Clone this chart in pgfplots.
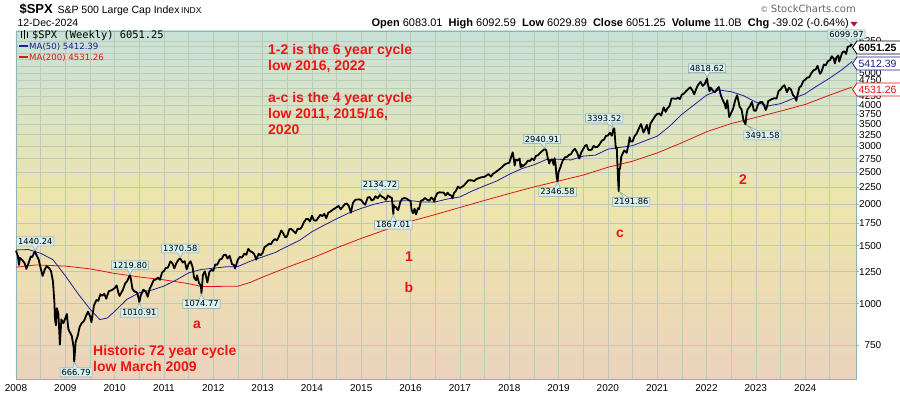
\documentclass[border=0pt]{standalone}
\usepackage{pgfplots}
\pgfplotsset{compat=1.18}
\usepackage{fontspec}
\setmainfont{Liberation Sans}
\newfontfamily\dv{DejaVu Sans}
\newfontfamily\dvm{DejaVu Sans Mono}
\usetikzlibrary{shapes.callouts,shapes.symbols}
\definecolor{bgtop}{RGB}{200,226,216}
\definecolor{bgmid}{RGB}{238,229,172}
\definecolor{bgbot}{RGB}{235,211,188}
\definecolor{gridc}{RGB}{188,202,186}
\definecolor{framec}{RGB}{140,180,185}
\definecolor{ma50c}{RGB}{30,30,150}
\definecolor{ma200c}{RGB}{225,20,20}
\definecolor{annred}{RGB}{240,20,20}
\definecolor{lblfill}{RGB}{215,240,240}
\definecolor{lbldraw}{RGB}{130,165,170}
\newcommand{\valbox}[4]{%
  \draw[#2, line width=0.8pt, fill=white] (852.5,#1) -- (857,#1+6.5) -- (902,#1+6.5) -- (902,#1-6.5) -- (857,#1-6.5) -- cycle;
  \node[text=#2, font=#4, inner sep=0pt, anchor=west] at (858.3,#1) {#3};}
\pgfplotstableread{
x y
2008.00 1447
2008.04 1390
2008.06 1310
2008.08 1378
2008.13 1353
2008.17 1330
2008.20 1293
2008.21 1275
2008.25 1322
2008.30 1390
2008.33 1385
2008.38 1440
2008.42 1400
2008.46 1360
2008.50 1280
2008.54 1214
2008.58 1267
2008.62 1298
2008.67 1283
2008.71 1255
2008.75 1166
2008.78 1000
2008.79 899
2008.81 860
2008.83 969
2008.86 930
2008.89 752
2008.92 896
2008.96 873
2009.00 903
2009.03 931
2009.06 840
2009.08 826
2009.13 800
2009.17 735
2009.18 667
2009.21 768
2009.25 798
2009.29 850
2009.33 873
2009.38 887
2009.42 919
2009.46 946
2009.50 919
2009.53 879
2009.58 987
2009.63 1026
2009.67 1021
2009.71 1068
2009.75 1057
2009.79 1071
2009.83 1036
2009.88 1091
2009.92 1096
2009.96 1103
2010.00 1115
2010.04 1136
2010.08 1074
2010.10 1056
2010.17 1104
2010.21 1150
2010.25 1169
2010.31 1219
2010.33 1187
2010.36 1110
2010.40 1088
2010.42 1089
2010.46 1077
2010.49 1031
2010.50 1011
2010.53 1060
2010.58 1102
2010.63 1090
2010.67 1049
2010.71 1110
2010.75 1141
2010.79 1178
2010.83 1183
2010.88 1200
2010.92 1181
2010.96 1243
2011.00 1258
2011.04 1283
2011.08 1286
2011.13 1343
2011.17 1327
2011.21 1279
2011.25 1326
2011.30 1363
2011.33 1370
2011.38 1333
2011.42 1345
2011.46 1271
2011.50 1321
2011.54 1344
2011.58 1292
2011.61 1199
2011.65 1178
2011.67 1219
2011.71 1155
2011.75 1131
2011.76 1075
2011.79 1224
2011.83 1253
2011.88 1159
2011.92 1247
2011.96 1265
2012.00 1258
2012.04 1315
2012.08 1312
2012.13 1361
2012.17 1366
2012.21 1404
2012.25 1408
2012.29 1370
2012.33 1398
2012.38 1317
2012.42 1310
2012.44 1278
2012.50 1362
2012.54 1386
2012.58 1379
2012.63 1418
2012.67 1407
2012.71 1466
2012.75 1441
2012.79 1433
2012.83 1412
2012.87 1360
2012.92 1416
2012.96 1402
2013.00 1426
2013.04 1485
2013.08 1498
2013.13 1519
2013.17 1515
2013.21 1551
2013.25 1569
2013.29 1555
2013.33 1598
2013.38 1667
2013.42 1631
2013.46 1589
2013.48 1592
2013.50 1606
2013.54 1680
2013.58 1686
2013.63 1656
2013.67 1633
2013.71 1688
2013.75 1682
2013.79 1703
2013.83 1757
2013.88 1804
2013.92 1806
2013.96 1775
2014.00 1848
2014.04 1790
2014.08 1783
2014.10 1797
2014.17 1859
2014.21 1841
2014.25 1872
2014.29 1815
2014.33 1884
2014.42 1924
2014.50 1960
2014.54 1978
2014.58 1931
2014.67 2003
2014.71 2011
2014.75 1972
2014.79 1886
2014.83 2018
2014.88 2064
2014.92 2068
2014.96 2070
2015.00 2059
2015.04 2019
2015.08 1995
2015.13 2096
2015.17 2105
2015.21 2053
2015.25 2068
2015.29 2117
2015.33 2086
2015.38 2135
2015.42 2107
2015.46 2094
2015.50 2063
2015.54 2127
2015.58 2104
2015.62 2091
2015.65 1867
2015.66 1989
2015.67 1972
2015.71 1958
2015.73 1931
2015.75 1920
2015.79 2033
2015.83 2079
2015.88 2089
2015.92 2080
2015.96 2060
2016.00 2044
2016.02 1922
2016.05 1880
2016.08 1940
2016.11 1864
2016.15 1948
2016.17 1932
2016.21 2050
2016.25 2060
2016.29 2091
2016.33 2065
2016.38 2052
2016.42 2097
2016.46 2071
2016.48 2037
2016.50 2099
2016.54 2161
2016.58 2174
2016.67 2171
2016.71 2127
2016.75 2168
2016.79 2133
2016.83 2126
2016.85 2085
2016.88 2164
2016.92 2199
2016.96 2263
2017.00 2239
2017.08 2279
2017.17 2364
2017.25 2363
2017.29 2349
2017.33 2384
2017.42 2412
2017.50 2423
2017.58 2470
2017.63 2425
2017.67 2472
2017.75 2519
2017.83 2575
2017.92 2648
2018.00 2674
2018.04 2786
2018.07 2873
2018.09 2762
2018.11 2620
2018.13 2732
2018.17 2714
2018.21 2752
2018.23 2588
2018.25 2641
2018.27 2604
2018.33 2648
2018.38 2713
2018.42 2705
2018.46 2754
2018.50 2718
2018.54 2801
2018.58 2816
2018.67 2902
2018.72 2941
2018.75 2914
2018.78 2767
2018.81 2658
2018.83 2712
2018.87 2736
2018.90 2632
2018.92 2760
2018.94 2633
2018.96 2417
2018.98 2347
2019.00 2507
2019.04 2596
2019.08 2704
2019.13 2775
2019.17 2784
2019.21 2822
2019.25 2834
2019.29 2905
2019.33 2946
2019.37 2881
2019.42 2752
2019.46 2873
2019.50 2942
2019.54 3013
2019.57 3025
2019.60 2932
2019.62 2918
2019.67 2926
2019.71 3007
2019.75 2977
2019.79 2986
2019.83 3038
2019.88 3120
2019.92 3141
2019.96 3221
2020.00 3231
2020.04 3295
2020.08 3226
2020.11 3380
2020.13 3393
2020.16 2954
2020.18 2972
2020.19 2711
2020.21 2305
2020.22 2192
2020.23 2541
2020.25 2585
2020.27 2789
2020.33 2912
2020.38 2864
2020.42 3044
2020.44 3193
2020.46 3098
2020.50 3100
2020.54 3216
2020.58 3271
2020.63 3397
2020.67 3500
2020.69 3427
2020.72 3298
2020.75 3363
2020.79 3483
2020.83 3270
2020.86 3509
2020.92 3622
2020.96 3703
2021.00 3756
2021.04 3768
2021.08 3714
2021.13 3934
2021.17 3811
2021.21 3913
2021.25 3973
2021.29 4185
2021.33 4181
2021.38 4173
2021.42 4204
2021.46 4166
2021.50 4298
2021.54 4327
2021.58 4395
2021.63 4468
2021.67 4523
2021.71 4433
2021.75 4308
2021.79 4471
2021.83 4605
2021.88 4698
2021.92 4567
2021.96 4621
2022.00 4766
2022.01 4818
2022.02 4677
2022.06 4398
2022.08 4516
2022.13 4418
2022.15 4385
2022.17 4374
2022.21 4463
2022.25 4530
2022.29 4272
2022.33 4132
2022.37 4023
2022.39 3901
2022.42 4132
2022.46 3675
2022.50 3785
2022.54 3900
2022.58 4130
2022.62 4280
2022.67 3955
2022.71 3873
2022.75 3586
2022.79 3492
2022.81 3752
2022.83 3872
2022.88 3966
2022.92 4080
2022.96 3845
2023.00 3840
2023.04 3999
2023.08 4077
2023.13 4079
2023.17 3970
2023.20 3861
2023.23 3971
2023.25 4109
2023.29 4138
2023.33 4169
2023.38 4191
2023.42 4180
2023.46 4409
2023.50 4450
2023.54 4536
2023.58 4589
2023.63 4370
2023.67 4508
2023.71 4457
2023.75 4288
2023.79 4224
2023.82 4117
2023.83 4194
2023.88 4514
2023.92 4568
2023.96 4719
2024.00 4770
2024.04 4839
2024.08 4846
2024.13 5005
2024.17 5096
2024.21 5117
2024.25 5254
2024.30 4967
2024.33 5036
2024.38 5303
2024.42 5278
2024.46 5431
2024.50 5460
2024.54 5615
2024.58 5522
2024.60 5344
2024.63 5554
2024.67 5648
2024.69 5408
2024.75 5762
2024.79 5815
2024.83 5705
2024.86 5996
2024.92 6032
2024.93 6100
2024.95 6051
}\price
\pgfplotstableread{
x y
2008.00 1455
2008.25 1459
2008.50 1421
2008.75 1359
2009.00 1215
2009.25 1076
2009.50 963
2009.70 895
2009.85 905
2010.00 948
2010.25 1031
2010.50 1080
2010.75 1099
2011.00 1131
2011.25 1180
2011.50 1240
2011.75 1269
2012.00 1281
2012.25 1293
2012.50 1296
2012.75 1345
2013.00 1386
2013.25 1428
2013.50 1492
2013.75 1556
2014.00 1652
2014.25 1730
2014.50 1808
2014.75 1883
2015.00 1944
2015.25 1999
2015.50 2040
2015.75 2047
2016.00 2052
2016.25 2032
2016.50 2033
2016.75 2076
2017.00 2106
2017.25 2195
2017.50 2275
2017.75 2354
2018.00 2465
2018.25 2563
2018.50 2634
2018.75 2732
2019.00 2738
2019.25 2725
2019.50 2798
2019.75 2819
2020.00 2938
2020.25 2975
2020.50 3010
2020.75 3114
2021.00 3217
2021.25 3445
2021.50 3747
2021.75 4005
2022.00 4279
2022.25 4439
2022.50 4386
2022.75 4265
2023.00 4078
2023.25 3972
2023.50 4035
2023.75 4178
2024.00 4323
2024.25 4576
2024.50 4824
2024.75 5120
2024.95 5412
}\maA
\pgfplotstableread{
x y
2008.00 1290
2008.40 1310
2009.00 1300
2009.50 1275
2010.00 1235
2010.50 1205
2011.00 1181
2011.50 1150
2011.75 1128
2012.00 1128
2012.50 1130
2012.75 1160
2013.00 1204
2013.50 1289
2014.00 1374
2014.50 1476
2015.00 1577
2015.50 1676
2016.00 1777
2016.50 1862
2017.00 1957
2017.50 2055
2018.00 2156
2018.50 2257
2019.00 2353
2019.50 2452
2020.00 2589
2020.50 2701
2021.00 2862
2021.50 3072
2022.00 3316
2022.50 3512
2023.00 3666
2023.50 3831
2024.00 4012
2024.50 4285
2024.95 4531
}\maB
\begin{document}
\begin{tikzpicture}[x=1pt,y=1pt,
  lbl/.style={rectangle callout, fill=lblfill, draw=lbldraw, line width=0.5pt,
    font=\dv\fontsize{8.3}{9}\selectfont, inner xsep=1.5pt, inner ysep=1.3pt,
    callout pointer width=5pt, anchor=pointer},
  up/.style={callout relative pointer={(#1,-5pt)}},
  dn/.style={callout relative pointer={(#1,5.5pt)}},
  ann/.style={anchor=base west, text=annred, font=\bfseries\fontsize{14}{15}\selectfont}]
\begin{axis}[
  at={(16pt,17pt)}, anchor=south west,
  scale only axis, width=840.5pt, height=348pt,
  xmin=2008, xmax=2025.04,
  ymode=log, ymin=591.6, ymax=6698,
  clip=false,
  axis background/.style={shade, top color=bgtop, bottom color=bgbot, middle color=bgmid},
  axis line style={framec, line width=0.8pt},
  xtick={2008,2009,...,2024},
  xticklabels={2008,2009,2010,2011,2012,2013,2014,2015,2016,2017,2018,2019,2020,2021,2022,2023,2024},
  minor xtick={2008.5,2009.5,...,2024.5},
  xtick style={draw=none}, minor tick style={draw=none},
  ytick={750,1000,1250,1500,1750,2000,2250,2500,2750,3000,3250,3500,3750,4000,4250,4500,4750,5000,5250,5500,5750,6000,6250},
  yticklabels={750,1000,1250,1500,1750,2000,2250,2500,2750,3000,3250,3500,3750,4000,4250,{},4750,5000,{},{},{},{},6250},
  ytick pos=right, yticklabel pos=right,
  ytick style={framec, line width=0.6pt},
  tick align=outside, major tick length=2.5pt,
  grid=both,
  major grid style={gridc, line width=0.6pt},
  minor grid style={gridc, line width=0.6pt},
  tick label style={font=\fontsize{10}{12}\selectfont},
  yticklabel style={anchor=west, text width=22pt, align=right, inner sep=0pt, xshift=0pt},
]
\addplot[ma200c, line width=0.8pt] table {\maB};
\addplot[ma50c, line width=0.8pt] table {\maA};
\addplot[black, line width=1.8pt, line join=round] table {\price};
% callouts
\node[lbl, up=0pt] at (axis cs:2008.39,1440.24) {1440.24};
\node[lbl, dn=-1pt] at (axis cs:2009.18,666.79) {666.79};
\node[lbl, up=0pt] at (axis cs:2010.31,1219.80) {1219.80};
\node[lbl, dn=0pt] at (axis cs:2010.50,1010.91) {1010.91};
\node[lbl, up=0pt] at (axis cs:2011.33,1370.58) {1370.58};
\node[lbl, dn=0pt] at (axis cs:2011.76,1074.77) {1074.77};
\node[lbl, up=0pt] at (axis cs:2015.38,2134.72) {2134.72};
\node[lbl, dn=0pt] at (axis cs:2015.65,1867.01) {1867.01};
\node[lbl, up=1.4pt] at (axis cs:2018.72,2940.91) {2940.91};
\node[lbl, dn=0pt] at (axis cs:2018.98,2346.58) {2346.58};
\node[lbl, up=5pt] at (axis cs:2020.13,3393.52) {3393.52};
\node[lbl, dn=-6.4pt] at (axis cs:2020.22,2191.86) {2191.86};
\node[lbl, up=0pt] at (axis cs:2022.01,4818.62) {4818.62};
\node[lbl, dn=-8.6pt] at (axis cs:2022.79,3491.58) {3491.58};
\node[lbl, up=2.3pt] at (axis cs:2024.93,6099.97) {6099.97};
\end{axis}
% header
\node[anchor=base west, font=\bfseries\fontsize{13}{14}\selectfont] at (16,382.5) {\$SPX};
\node[anchor=base west, font=\fontsize{10.5}{12}\selectfont] at (54,382.5) {S\&P 500 Large Cap Index};
\node[anchor=base west, font=\fontsize{8.5}{10}\selectfont, inner sep=0pt] at (181,382.5) {INDX};
\node[anchor=base west, font=\fontsize{10.5}{12}\selectfont] at (14,369.5) {12-Dec-2024};
\node[anchor=base east, font=\fontsize{11}{12}\selectfont, inner sep=0pt] at (849,369.5)
  {\textbf{Open} 6083.01 \ \textbf{High} 6092.59 \ \textbf{Low} 6029.89 \ \textbf{Close} 6051.25 \ \textbf{Volume} 11.0B \ \textbf{Chg} -39.02 (-0.64\%)};
\fill[fill={rgb,255:red,170;green,20;blue,60}] (850.5,374) -- (857.5,374) -- (854,369.5) -- cycle;
\node[anchor=base east, text={rgb,255:red,100;green,100;blue,100}, font=\fontsize{10}{12}\selectfont, inner sep=0pt] at (856,383) {\dv\fontsize{8}{9}\selectfont\textcopyright{} \fontsize{10}{12}\selectfont StockCharts.com};
% legend
\foreach \xx/\hh in {21/7,24/9,27/6} {\draw[black, line width=1pt] (\xx,361-\hh/2) -- (\xx,361+\hh/2);}
\node[anchor=base west, inner sep=0pt, font=\dvm\fontsize{10.4}{12}\selectfont] at (32,357.5) {\$SPX (Weekly) 6051.25};
\draw[ma50c, line width=1.3pt] (19,350) -- (28,350);
\node[anchor=base west, inner sep=0pt, text=ma50c, font=\dv\fontsize{8.6}{10}\selectfont] at (29,346.7) {MA(50) 5412.39};
\draw[ma200c, line width=1.3pt] (19,339) -- (28,339);
\node[anchor=base west, inner sep=0pt, text=ma200c, font=\dv\fontsize{8.6}{10}\selectfont] at (29,335.7) {MA(200) 4531.26};
% annotations
\node[ann, inner sep=0pt] at (268,341) {1-2 is the 6 year cycle};
\node[ann, inner sep=0pt] at (268,325.5) {low 2016, 2022};
\node[ann, inner sep=0pt] at (268,293) {a-c is the 4 year cycle};
\node[ann, inner sep=0pt] at (268,277.5) {low 2011, 2015/16,};
\node[ann, inner sep=0pt] at (268,261.5) {2020};
\node[ann, inner sep=0pt] at (93,40) {Historic 72 year cycle};
\node[ann, inner sep=0pt] at (93,24.5) {low March 2009};
\node[ann, inner sep=0pt, anchor=base] at (197,67) {a};
\node[ann, inner sep=0pt, anchor=base] at (409,134) {1};
\node[ann, inner sep=0pt, anchor=base] at (409,103) {b};
\node[ann, inner sep=0pt, anchor=base] at (620,158) {c};
\node[ann, inner sep=0pt, anchor=base] at (743,211) {2};
% right value boxes
\valbox{348.5}{black}{6051.25}{\bfseries\fontsize{10.5}{11}\selectfont}
\valbox{332.5}{ma50c}{5412.39}{\fontsize{10.5}{11}\selectfont}
\valbox{306.5}{ma200c}{4531.26}{\fontsize{10.5}{11}\selectfont}
\pgfresetboundingbox
\useasboundingbox (0,0) rectangle (900,396);
\end{tikzpicture}
\end{document}
